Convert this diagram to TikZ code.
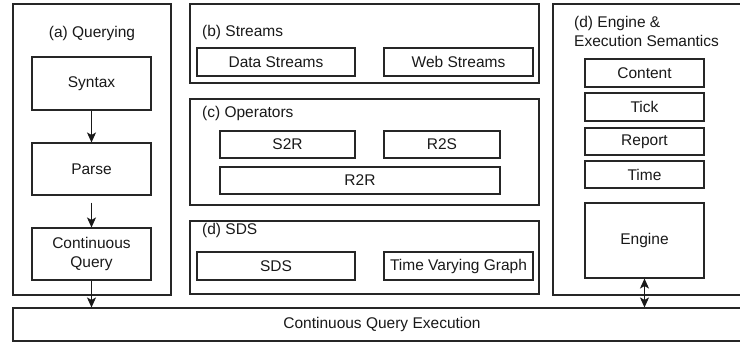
\documentclass[tikz,border=0pt]{standalone}
\usepackage{fontspec}
\setmainfont{Liberation Sans}
\usetikzlibrary{arrows.meta}
\begin{document}
\begin{tikzpicture}[x=1pt,y=-1pt,
  every node/.style={font=\fontsize{15.5}{18.6}\selectfont, text=black!90},
  box/.style={draw=black!85, line width=1.1pt, rectangle, inner sep=0pt, align=center},
  panel/.style={draw=black!85, line width=1.1pt, rectangle, inner sep=0pt},
  ttl/.style={inner sep=0pt, align=left},
  tip/.style={Stealth[length=10pt,width=9pt,inset=2.5pt]},
  arr/.style={draw=black!90, line width=1.1pt, -{Stealth[length=10pt,width=9pt,inset=2.5pt]}},
  darr/.style={draw=black!90, line width=1.1pt, {Stealth[length=10pt,width=9pt,inset=2.5pt]}-{Stealth[length=10pt,width=9pt,inset=2.5pt]}}
]
\clip (0,0) rectangle (740,342);
\fill[white] (0,0) rectangle (740,342);

% panels
\node[panel, minimum width=158pt, minimum height=291pt] (pa) at (92,149.5) {};
\node[panel, minimum width=349pt, minimum height=79pt] (pb) at (364.5,43.5) {};
\node[panel, minimum width=349pt, minimum height=106pt] (pc) at (364.5,152) {};
\node[panel, minimum width=349pt, minimum height=73pt] (pd) at (364.5,257.5) {};
\node[panel, minimum width=207pt, minimum height=291pt] (pe) at (656.5,149.5) {};

% titles
\node[ttl] (ta) at (92,33) {(a) Querying};
\node[ttl, anchor=west] (tb) at (202,32) {(b) Streams};
\node[ttl, anchor=west] (tc) at (202,113) {(c) Operators};
\node[ttl, anchor=west] (td) at (202,230) {(d) SDS};
\node[ttl, anchor=west, font=\fontsize{15.5}{19}\selectfont] (te) at (574,31.5) {(d) Engine \&\\Execution Semantics};

% (a) querying
\node[box, minimum width=119pt, minimum height=53pt] (syntax) at (91.5,83.5) {Syntax};
\node[box, minimum width=119pt, minimum height=52pt] (parse) at (91.5,169) {Parse};
\node[box, minimum width=119pt, minimum height=52pt] (cq) at (91.5,254) {Continuous\\Query};

% (b) streams
\node[box, minimum width=158pt, minimum height=28pt] (ds) at (276,62) {Data Streams};
\node[box, minimum width=149pt, minimum height=28pt] (ws) at (458.5,62) {Web Streams};

% (c) operators
\node[box, minimum width=135pt, minimum height=27pt] (s2r) at (287.5,144.5) {S2R};
\node[box, minimum width=116pt, minimum height=27pt] (r2s) at (442,144.5) {R2S};
\node[box, minimum width=280pt, minimum height=27pt] (r2r) at (360,180.5) {R2R};

% (d) SDS
\node[box, minimum width=158pt, minimum height=28pt] (sds) at (276,266) {SDS};
\node[box, minimum width=149pt, minimum height=28pt] (tvg) at (458.5,266) {Time Varying Graph};

% (d) engine
\node[box, minimum width=119pt, minimum height=28pt] (content) at (644.5,73) {Content};
\node[box, minimum width=119pt, minimum height=28pt] (tick) at (644.5,107) {Tick};
\node[box, minimum width=119pt, minimum height=27pt] (report) at (644.5,141.5) {Report};
\node[box, minimum width=119pt, minimum height=27pt] (time) at (644.5,174.5) {Time};
\node[box, minimum width=119pt, minimum height=75pt] (engine) at (644.5,240.5) {Engine};

% bottom
\node[box, minimum width=738pt, minimum height=33pt] (exec) at (382,324.5) {Continuous Query Execution};

% connectors
\draw[arr] (syntax.south) -- (parse.north);
\draw[arr] ([yshift=-7pt]parse.south) -- (cq.north);
\draw[arr] (cq.south) -- (cq.south |- exec.north);
\draw[darr] (engine.south) -- (engine.south |- exec.north);
\end{tikzpicture}
\end{document}
